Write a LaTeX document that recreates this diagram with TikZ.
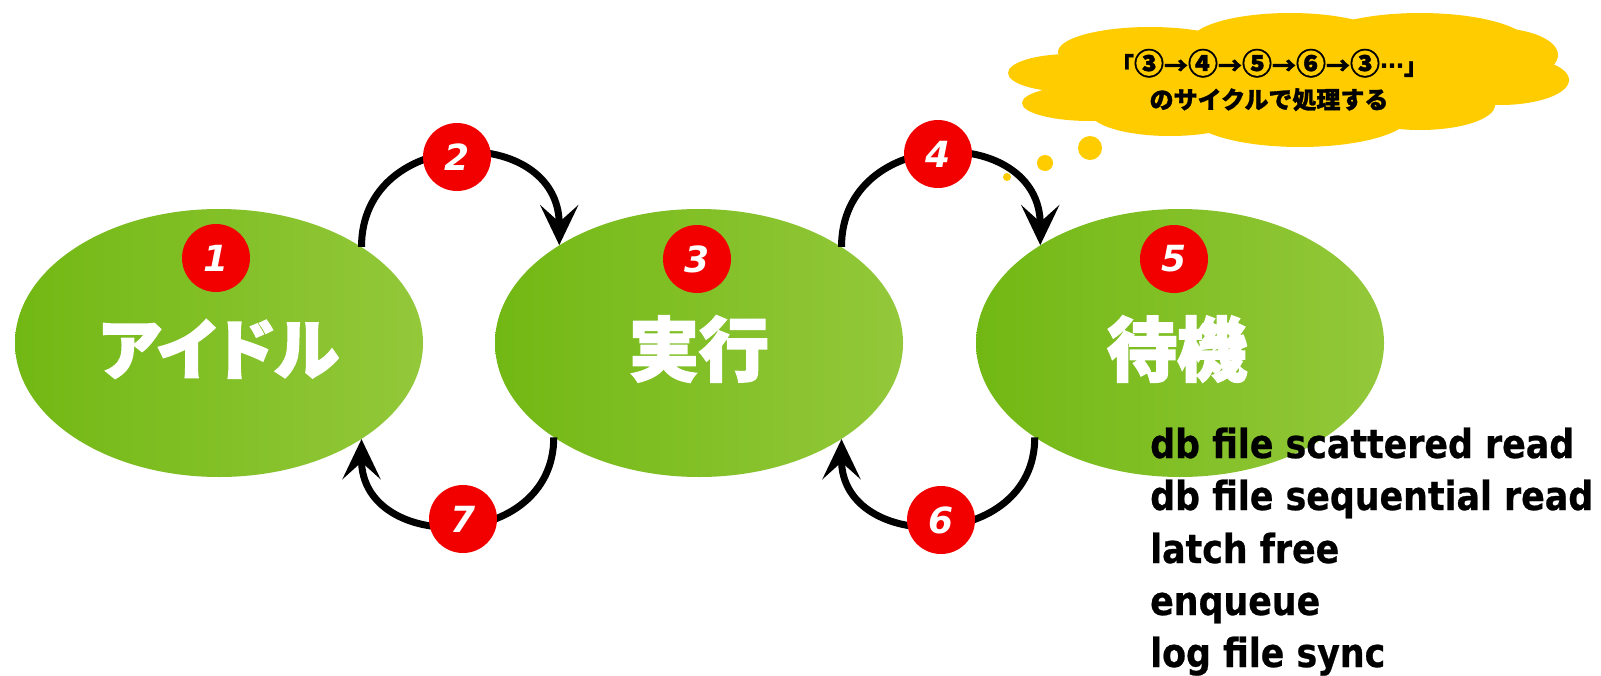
\documentclass[tikz,border=0pt]{standalone}
\usepackage{fontspec}
\usetikzlibrary{shapes.geometric,arrows.meta}
\newfontfamily\cjk{Noto Sans CJK JP}[FakeBold=1.2]
\newfontfamily\cjkh{Noto Sans CJK JP}[FakeBold=2.5]
\newfontfamily\cjkhp{Noto Sans CJK JP}[FakeBold=2.5,RawFeature=+palt]
\newfontfamily\listfont{DejaVu Sans}[FakeStretch=0.87,FakeBold=0.6]
\newfontfamily\numfont{DejaVu Sans}
\newfontfamily\symfont{DejaVu Sans}
\newcommand{\cd}[1]{{\fontsize{30}{30}\selectfont #1}}
\definecolor{gl}{HTML}{72B814}
\definecolor{gr}{HTML}{93C83A}
\definecolor{cy}{HTML}{FFCC00}
\definecolor{rd}{HTML}{F20000}
\begin{document}
\begin{tikzpicture}[x=1pt,y=-1pt,
  state/.style={ellipse, minimum width=408pt, minimum height=268pt, inner sep=0pt, left color=gl, right color=gr},
  statelabel/.style={text=white, inner sep=0pt, font=\cjkh\bfseries\fontsize{70}{70}\selectfont},
  badge/.style={circle, fill=rd, minimum size=68pt, inner sep=0pt, text=white, font=\numfont\bfseries\itshape\fontsize{36}{36}\selectfont},
  flow/.style={line width=7pt, -{Stealth[length=40pt,width=38pt,inset=17pt]}},
  puff/.style={fill=cy},
  item/.style={anchor=base west, inner sep=0pt, font=\listfont\bfseries\fontsize{40}{40}\selectfont}
]
\useasboundingbox (0,0) rectangle (1601,675);
\fill[white] (0,0) rectangle (1601,675);

% states
\node[state] (e1) at (219,343) {};
\node[state] (e2) at (699,343) {};
\node[state] (e3) at (1180,343) {};
\node[statelabel, font=\cjkhp\bfseries\fontsize{66}{66}\selectfont] (t1) at (219,349) {アイドル};
\node[statelabel] (t2) at (699,349) {実行};
\node[statelabel] (t3) at (1177,349) {待機};

% transitions
\draw[flow] (e1.34) .. controls +(0,-122) and +(0,-122) .. (e2.145);
\draw[flow] (e2.34) .. controls +(0,-122) and +(0,-122) .. (e3.145);
\draw[flow] (e3.213) .. controls +(0,115) and +(0,115) .. (e2.326);
\draw[flow] (e2.213) .. controls +(0,115) and +(0,115) .. (e1.326);

% badges
\node[badge] (n1) at (216,258) {1};
\node[badge] (n2) at (457,157) {2};
\node[badge] (n3) at (697,259) {3};
\node[badge] (n4) at (938,154) {4};
\node[badge] (n5) at (1174,259) {5};
\node[badge] (n6) at (941,520) {6};
\node[badge] (n7) at (463,519) {7};

% thought cloud
\fill[puff] (1290,80) ellipse [x radius=230, y radius=50];
\fill[puff] (1070,73) ellipse [x radius=62, y radius=19];
\fill[puff] (1090,103) ellipse [x radius=68, y radius=18];
\fill[puff] (1150,52) ellipse [x radius=92, y radius=25];
\fill[puff] (1290,42) ellipse [x radius=100, y radius=29];
\fill[puff] (1420,45) ellipse [x radius=110, y radius=32];
\fill[puff] (1495,55) ellipse [x radius=63, y radius=27];
\fill[puff] (1500,80) ellipse [x radius=69, y radius=25];
\fill[puff] (1420,105) ellipse [x radius=75, y radius=25];
\fill[puff] (1170,112) ellipse [x radius=80, y radius=24];
\fill[puff] (1300,115) ellipse [x radius=110, y radius=32];
\fill[puff] (1090,148) circle [radius=12];
\fill[puff] (1045,163) circle [radius=8];
\fill[puff] (1007,177) circle [radius=4];
\node[align=center, inner sep=0pt, font=\cjk\bfseries\fontsize{24}{34}\selectfont] (ct) at (1269,80)
  {「\cd{③}→\cd{④}→\cd{⑤}→\cd{⑥}→\cd{③}{\symfont ⋯}」\\のサイクルで処理する};

% wait events
\node[item] (l1) at (1150,458) {db file scattered read};
\node[item] (l2) at (1150,510) {db file sequential read};
\node[item] (l3) at (1150,563) {latch free};
\node[item] (l4) at (1150,615) {enqueue};
\node[item] (l5) at (1150,667) {log file sync};
\end{tikzpicture}
\end{document}
